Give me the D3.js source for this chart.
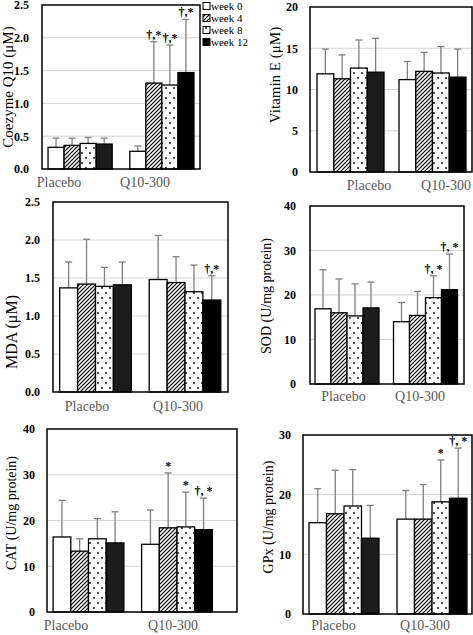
<!DOCTYPE html>
<html><head><meta charset="utf-8">
<script src="https://cdn.jsdelivr.net/npm/d3@7"></script>
<style>html,body{margin:0;padding:0;background:#fff;}svg{display:block;font-family:"Liberation Serif","Times New Roman",serif;}</style>
</head><body><svg id="c" width="473" height="635"></svg>
<script>
// ---------- data ----------
const groups = ["Placebo", "Q10-300"];
const weeks = ["week 0", "week 4", "week 8", "week 12"];

const coq10Mean = [[0.33, 0.36, 0.39, 0.38], [0.27, 1.31, 1.28, 1.47]];
const coq10Err  = [[0.14, 0.11, 0.09, 0.09], [0.08, 0.63, 0.61, 0.81]];
const coq10Sig  = [["", "", "", ""], ["", "†,*", "†,*", "†,*"]];
const coq10Ticks = [0.0, 0.5, 1.0, 1.5, 2.0, 2.5];

const vitEMean = [[11.9, 11.3, 12.6, 12.1], [11.2, 12.2, 12.0, 11.5]];
const vitEErr  = [[3.0, 2.9, 3.4, 4.1], [2.2, 2.3, 3.2, 3.4]];
const vitESig  = [["", "", "", ""], ["", "", "", ""]];
const vitETicks = [0, 5, 10, 15, 20];

const mdaMean = [[1.37, 1.42, 1.39, 1.41], [1.48, 1.44, 1.32, 1.21]];
const mdaErr  = [[0.34, 0.59, 0.25, 0.30], [0.58, 0.34, 0.35, 0.32]];
const mdaSig  = [["", "", "", ""], ["", "", "", "†,*"]];
const mdaTicks = [0.0, 0.5, 1.0, 1.5, 2.0, 2.5];

const sodMean = [[16.9, 16.0, 15.3, 17.1], [14.0, 15.4, 19.4, 21.2]];
const sodErr  = [[8.8, 7.6, 7.2, 5.8], [4.3, 5.4, 4.9, 8.0]];
const sodSig  = [["", "", "", ""], ["", "", "†, *", "†, *"]];
const sodTicks = [0, 10, 20, 30, 40];

const catMean = [[16.4, 13.3, 16.0, 15.1], [14.8, 18.4, 18.6, 18.0]];
const catErr  = [[8.0, 2.7, 4.4, 6.8], [7.5, 12.0, 7.6, 6.9]];
const catSig  = [["", "", "", ""], ["", "*", "*", "†, *"]];
const catTicks = [0, 10, 20, 30, 40];

const gpxMean = [[15.3, 16.8, 18.1, 12.7], [15.9, 15.9, 18.8, 19.4]];
const gpxErr  = [[5.7, 7.3, 6.1, 5.5], [4.8, 5.8, 7.0, 8.4]];
const gpxSig  = [["", "", "", ""], ["", "", "*", "†, *"]];
const gpxTicks = [0, 10, 20, 30];

// ---------- layout ----------
const panels = [
  {title: "Coezyme Q10 (μM)", mean: coq10Mean, err: coq10Err, sig: coq10Sig, ticks: coq10Ticks, fmt: ".1f",
   L: 42, R: 200, T: 5, B: 169, band: [39.25, 202.75], gw: 0.785, pad: 13,
   labX: [59, 145], labY: 187, titleX: 8, titleY: 87, titleSize: 15, legend: true},
  {title: "Vitamin E  (μM)", mean: vitEMean, err: vitEErr, sig: vitESig, ticks: vitETicks, fmt: "d",
   L: 310, R: 472, T: 7, B: 172, band: [309.5, 473.5], gw: 0.817, pad: 12,
   labX: [369, 446], labY: 190, titleX: 275, titleY: 75, titleSize: 15},
  {title: "MDA  (μM)", mean: mdaMean, err: mdaErr, sig: mdaSig, ticks: mdaTicks, fmt: ".1f",
   L: 53, R: 228, T: 202, B: 392, band: [50.75, 229.75], gw: 0.80, pad: 13,
   labX: [87, 178], labY: 411, titleX: 11, titleY: 332, titleSize: 16},
  {title: "SOD (U/mg protein)", mean: sodMean, err: sodErr, sig: sodSig, ticks: sodTicks, fmt: "d",
   L: 310, R: 464, T: 206, B: 384, band: [307.75, 464.75], gw: 0.815, pad: 14,
   labX: [343.5, 420], labY: 401, titleX: 266, titleY: 296, titleSize: 14},
  {title: "CAT (U/mg protein)", mean: catMean, err: catErr, sig: catSig, ticks: catTicks, fmt: "d",
   L: 47, R: 237, T: 429, B: 612, band: [44.25, 221.25], gw: 0.80, pad: 12,
   labX: [66, 173], labY: 630, titleX: 11, titleY: 513, titleSize: 14},
  {title: "GPx  (U/mg protein)", mean: gpxMean, err: gpxErr, sig: gpxSig, ticks: gpxTicks, fmt: "d",
   L: 303, R: 472, T: 435, B: 614, band: [300, 476], gw: 0.795, pad: 12,
   labX: [333.5, 425], labY: 630, titleX: 268, titleY: 517, titleSize: 14}
];

const svg = d3.select("#c");
const defs = svg.append("defs");
const hatch = defs.append("pattern").attr("id", "hatch").attr("patternUnits", "userSpaceOnUse")
  .attr("width", 4).attr("height", 4);
hatch.append("rect").attr("width", 4).attr("height", 4).attr("fill", "#fff");
hatch.append("path").attr("d", "M-1,1 l2,-2 M0,4 l4,-4 M3,5 l2,-2").attr("stroke", "#000").attr("stroke-width", 1.2);
const dots = defs.append("pattern").attr("id", "dots").attr("patternUnits", "userSpaceOnUse")
  .attr("width", 8).attr("height", 10);
dots.append("rect").attr("width", 8).attr("height", 10).attr("fill", "#fff");
dots.append("circle").attr("cx", 2).attr("cy", 3).attr("r", 0.9).attr("fill", "#000");
dots.append("circle").attr("cx", 6).attr("cy", 8).attr("r", 0.9).attr("fill", "#000");

const fills = ["#fff", "url(#hatch)", "url(#dots)", "#000"];
const font = '"Liberation Serif","Times New Roman",serif';

panels.forEach(p => {
  const g = svg.append("g");
  const yMax = p.ticks[p.ticks.length - 1];
  const y = d3.scaleLinear().domain([0, yMax]).range([p.B, p.T]);
  const x0 = d3.scaleBand().domain(groups).range(p.band).paddingInner(0).paddingOuter(0);
  const gw = x0.bandwidth() * p.gw;
  const x1 = d3.scaleBand().domain(weeks).range([0, gw]);

  // gridlines
  g.selectAll(".grid").data(p.ticks.filter(t => t > 0 && t < yMax)).enter().append("line")
    .attr("x1", p.L).attr("x2", p.R).attr("y1", d => y(d)).attr("y2", d => y(d))
    .attr("stroke", "#d4d4d4").attr("stroke-width", 1);

  // y axis
  const ax = g.append("g").attr("transform", `translate(${p.L},0)`)
    .call(d3.axisLeft(y).tickValues(p.ticks).tickSize(0).tickPadding(p.pad).tickFormat(d3.format(p.fmt)));
  ax.select(".domain").remove();
  ax.selectAll("text").attr("font-family", font).attr("font-weight", "bold").attr("font-size", 12).attr("fill", "#000");

  // bars
  groups.forEach((grp, gi) => {
    const gx = x0(grp) + (x0.bandwidth() - gw) / 2;
    weeks.forEach((w, wi) => {
      const v = p.mean[gi][wi], e = p.err[gi][wi];
      const bx = gx + x1(w), bw = x1.bandwidth();
      const cx = bx + bw / 2;
      g.append("line").attr("x1", cx).attr("x2", cx).attr("y1", y(v)).attr("y2", y(v + e))
        .attr("stroke", "#7f7f7f").attr("stroke-width", 1.3);
      g.append("line").attr("x1", cx - 3.5).attr("x2", cx + 3.5).attr("y1", y(v + e)).attr("y2", y(v + e))
        .attr("stroke", "#7f7f7f").attr("stroke-width", 1.3);
      g.append("rect").attr("x", bx).attr("y", y(v)).attr("width", bw).attr("height", y(0) - y(v))
        .attr("fill", wi === 3 && gi === 0 ? "#1c1c1c" : fills[wi])
        .attr("stroke", "#000").attr("stroke-width", 1.3);
      const s = p.sig[gi][wi];
      if (s) {
        g.append("text").attr("x", cx).attr("y", y(v + e) - 3).attr("text-anchor", "middle")
          .attr("font-family", font).attr("font-weight", "bold").attr("font-size", 12)
          .attr("fill", "#000").text(s);
      }
    });
  });

  // frame
  g.append("rect").attr("x", p.L).attr("y", p.T).attr("width", p.R - p.L).attr("height", p.B - p.T)
    .attr("fill", "none").attr("stroke", "#000").attr("stroke-width", 1.5);

  // category labels
  groups.forEach((grp, gi) => {
    g.append("text").attr("x", p.labX[gi]).attr("y", p.labY).attr("text-anchor", "middle")
      .attr("font-family", font).attr("font-size", 14).attr("fill", "#595959").text(grp);
  });

  // y title
  g.append("text").attr("transform", `translate(${p.titleX},${p.titleY}) rotate(-90)`)
    .attr("text-anchor", "middle").attr("dominant-baseline", "central")
    .attr("font-family", font).attr("font-size", p.titleSize).attr("fill", "#000").text(p.title);

  // legend
  if (p.legend) {
    const lg = g.append("g");
    weeks.forEach((w, wi) => {
      const ly = 6 + wi * 12;
      lg.append("rect").attr("x", 203).attr("y", ly - 3.5).attr("width", 7).attr("height", 7)
        .attr("fill", fills[wi]).attr("stroke", "#000").attr("stroke-width", 1);
      lg.append("text").attr("x", 211).attr("y", ly).attr("dominant-baseline", "central")
        .attr("font-family", font).attr("font-size", 11).attr("fill", "#000").text(w);
    });
  }
});
</script></body></html>
